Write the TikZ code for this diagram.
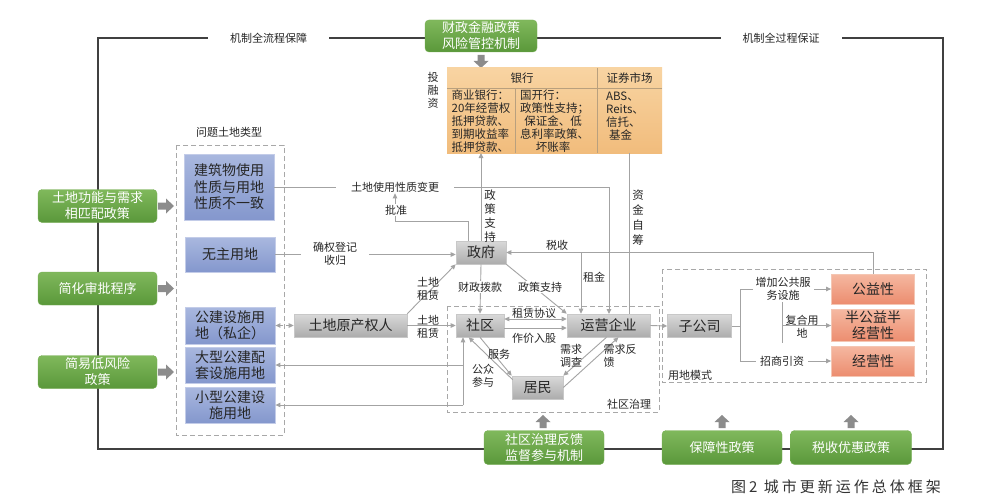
\documentclass[tikz,border=0pt]{standalone}
\usepackage{fontspec}
\setmainfont{Noto Sans CJK SC}
\newfontfamily\capfont[LetterSpace=20]{Noto Sans CJK SC}
\usetikzlibrary{arrows.meta,calc}
\definecolor{cGt}{HTML}{80B85C}
\definecolor{cGb}{HTML}{5A983A}
\definecolor{cGd}{HTML}{78B056}
\definecolor{cBt}{HTML}{A9B8DF}
\definecolor{cBb}{HTML}{8497CD}
\definecolor{cBd}{HTML}{C3CCE8}
\definecolor{cYt}{HTML}{D9D9D9}
\definecolor{cYb}{HTML}{ACACAC}
\definecolor{cYd}{HTML}{C8C8C8}
\definecolor{cRt}{HTML}{F5B8A1}
\definecolor{cRb}{HTML}{EC8D6F}
\definecolor{cRd}{HTML}{F4C6B3}
\definecolor{cTt}{HTML}{F8D4A2}
\definecolor{cTb}{HTML}{F1BC7C}
\definecolor{cTl}{HTML}{B9A07E}
\definecolor{cLn}{HTML}{A3A3A3}
\definecolor{cDs}{HTML}{A8A8A8}
\definecolor{cFr}{HTML}{404040}
\definecolor{cBk}{HTML}{8C8C8C}
\definecolor{cTx}{HTML}{262626}
\definecolor{cCap}{HTML}{333333}
\newcommand\fsz[2]{\fontsize{#1pt}{#2pt}\selectfont}
\begin{document}
\begin{tikzpicture}[x=1pt,y=-1pt,
 base/.style={inner sep=0pt, align=center},
 gbox/.style={base, rounded corners=4pt, draw=cGd, top color=cGt, bottom color=cGb, text=white, font=\fsz{13}{16}, minimum width=119pt, minimum height=33pt},
 bbox/.style={base, draw=cBd, line width=0.8pt, top color=cBt, bottom color=cBb, text=cTx, font=\fsz{14}{16.5}, minimum width=90pt},
 gybox/.style={base, draw=cYd, line width=0.6pt, top color=cYt, bottom color=cYb, text=cTx, font=\fsz{14}{16}, minimum height=23pt},
 rbox/.style={base, draw=cRd, line width=0.8pt, top color=cRt, bottom color=cRb, text=cTx, font=\fsz{14}{16}, minimum width=83pt},
 lbl/.style={font=\fsz{11}{13}, text=cTx, inner sep=1pt, align=center},
 wl/.style={lbl, fill=white},
 conn/.style={draw=cLn, line width=0.9pt, -{Triangle[length=5pt,width=4.5pt]}},
 plain/.style={draw=cLn, line width=0.9pt},
 dbox/.style={draw=cDs, line width=1pt, dash pattern=on 5pt off 3pt},
 frame/.style={draw=cFr, line width=2pt},
 tline/.style={draw=cTl, line width=0.7pt},
 blkR/.pic={\fill[cBk] (0,-3.5) -- (8,-3.5) -- (8,-7.5) -- (16,0) -- (8,7.5) -- (8,3.5) -- (0,3.5) -- cycle;},
 blkD/.pic={\fill[cBk] (-3.5,0) -- (-3.5,6) -- (-7.5,6) -- (0,13) -- (7.5,6) -- (3.5,6) -- (3.5,0) -- cycle;},
 blkU/.pic={\fill[cBk] (-3.5,0) -- (-3.5,-6) -- (-7.5,-6) -- (0,-13) -- (7.5,-6) -- (3.5,-6) -- (3.5,0) -- cycle;}
]
\useasboundingbox[fill=white] (0,0) rectangle (990,500);

% outer frame
\draw[frame] (97.5,38) rectangle (942.5,449);
\node[lbl, fill=white, inner xsep=22pt] (fl1) at (268.5,38) {机制全流程保障};
\node[lbl, fill=white, inner xsep=22pt] (fl2) at (781,38) {机制全过程保证};

% green policy boxes
\node[gbox, minimum width=112pt, minimum height=32pt] (gt) at (481,36) {财政金融政策\\风险管控机制};
\node[gbox] (g1) at (97.5,206) {土地功能与需求\\相匹配政策};
\node[gbox] (g2) at (97.5,288.5) {简化审批程序};
\node[gbox] (g3) at (97.5,372) {简易低风险\\政策};
\node[gbox, minimum width=120pt, minimum height=34pt] (gb1) at (544,447.5) {社区治理反馈\\监督参与机制};
\node[gbox, minimum width=120pt, minimum height=34pt] (gb2) at (722,447.5) {保障性政策};
\node[gbox, minimum width=121pt, minimum height=34pt] (gb3) at (851,447.5) {税收优惠政策};

% block arrows
\pic at (158,206) {blkR};
\pic at (158,288.5) {blkR};
\pic at (158,372) {blkR};
\pic at (481,55) {blkD};
\pic at (543,428) {blkU};
\pic at (722,428) {blkU};
\pic at (851,428) {blkU};

% dashed groups
\draw[dbox] (176,145) rectangle (284,435);
\node[lbl] (lt) at (229,132) {问题土地类型};
\draw[dbox] (447,306) rectangle (659,412);
\node[lbl] (lsq) at (629,404) {社区治理};
\draw[dbox] (662,269) rectangle (926,382);
\node[lbl] (lyd) at (690,375) {用地模式};

% finance table
\node[base, top color=cTt, bottom color=cTb, minimum width=215pt, minimum height=85pt] (tb) at (554.5,110.5) {};
\draw[tline] (447,88) -- (662,88);
\draw[tline] (597,68) -- (597,153);
\draw[tline] (515,88) -- (515,153);
\node[lbl, font=\fsz{11.5}{13}] (th1) at (522,78) {银行};
\node[lbl, font=\fsz{11.5}{13}] (th2) at (629.5,78) {证券市场};
\node[lbl, font=\fsz{11.5}{13}, align=left] (tc1) at (481,121) {商业银行：\\20年经营权\\抵押贷款、\\到期收益率\\抵押贷款、};
\node[lbl, font=\fsz{11.5}{13}, text width=66pt, align=center] (tc2) at (553,121) {\makebox[66pt][l]{国开行：}\\政策性支持；\\保证金、低\\息利率政策、\\坏账率};
\node[lbl, font=\fsz{11.5}{13}, align=left] (tc3) at (625,116) {ABS、\\Reits、\\信托、\\\hspace*{3pt}基金};
\node[lbl, font=\fsz{11}{13}] (trz) at (433,90) {投\\融\\资};

% blue land-type boxes
\node[bbox, minimum height=66pt] (b1) at (229,187) {建筑物使用\\性质与用地\\性质不一致};
\node[bbox, minimum height=35pt] (b2) at (230,254.5) {无主用地};
\node[bbox, minimum height=37pt] (b3) at (230,325.5) {公建设施用\\地（私企）};
\node[bbox, minimum height=36pt] (b4) at (230,365) {大型公建配\\套设施用地};
\node[bbox, minimum height=36pt] (b5) at (230,405) {小型公建设\\施用地};

% gray actor boxes
\node[gybox, minimum width=113pt] (yq) at (350.5,325.5) {土地原产权人};
\node[gybox, minimum width=50pt] (zf) at (481,252.5) {政府};
\node[gybox, minimum width=48pt] (sq) at (480,325.5) {社区};
\node[gybox, minimum width=83pt] (yy) at (608.5,325.5) {运营企业};
\node[gybox, minimum width=51pt] (jm) at (537.5,387.5) {居民};
\node[gybox, minimum width=64pt] (zg) at (699.5,326) {子公司};

% land-use mode boxes
\node[rbox, minimum height=30pt] (r1) at (873,289) {公益性};
\node[rbox, minimum height=32pt] (r2) at (873,325.5) {半公益半\\经营性};
\node[rbox, minimum height=30pt] (r3) at (873,361) {经营性};

% connectors
\node[lbl, fill=white, inner xsep=15pt] (tdb) at (395,187) {土地使用性质变更};
\draw[plain] (b1.east) -- (tdb.west);
\draw[conn] (tdb.east) -- (609,187) -- (609,314);
\coordinate (pzc) at (395,221);
\draw[conn] ([xshift=-13pt]zf.north) |- (pzc) -- (pzc |- tdb.south);
\draw[conn] (b2.east) -- (b2.east -| zf.west);
\draw[conn] (zf.north) -- (481,153);
\draw[plain] (629,153) -- (629,314);
\draw[conn] (r1.north) |- (zf.east);
\coordinate (zj) at (581,252.5);
\draw[conn] (zj) -- (zj |- yy.north);
\draw[conn] (yq.north east) -- (zf.south west);
\draw[conn] (zf.south) -- (sq.north);
\draw[conn] (zf.south east) -- (yy.north west);
\draw[conn] (yq.east) -- (sq.west);
\draw[conn, dashed, {Triangle[length=5pt,width=4.5pt]}-{Triangle[length=5pt,width=4.5pt]}] (b3.east) -- (yq.west);
\draw[conn, {Triangle[length=5pt,width=4.5pt]}-{Triangle[length=5pt,width=4.5pt]}] ([yshift=6.5pt]sq.east) -- ([yshift=6.5pt]yy.west);
\draw[conn] ([yshift=-2.5pt]sq.east) -- ([yshift=-2.5pt]yy.west);
\draw[conn] (sq.south) -- (jm.north west);
\draw[conn] ($(jm.north west)+(1,4)$) -- ($(sq.south west)+(13,0)$);
\draw[conn] ($(yy.south)+(-2,0)$) -- (jm.north east);
\draw[conn] (jm.east) -- ($(yy.south)+(10,0)$);
\coordinate (jx) at (463,405);
\draw[conn] (jx |- b4.east) -- (b4.east);
\draw[conn] (jx) -- (b5.east);
\draw[conn] (jx) -- (jx |- sq.south);
\draw[conn] (yy.east) -- (zg.west);
\coordinate (t0) at (740,326);
\coordinate (t1) at (740,289);
\coordinate (t2) at (740,361);
\draw[plain] (zg.east) -- (t0);
\draw[plain] (t1) -- (t2);
\draw[conn] (t1) -- (t1 -| r1.west);
\draw[conn] (t2) -- (t2 -| r3.west);
\coordinate (t3) at (782,302);
\coordinate (t4) at (782,343);
\coordinate (t5) at (782,325.5);
\draw[plain] (t3) -- (t4);
\draw[conn] (t5) -- (r2.west);

% connector labels
\node[wl] (lpz) at (396,210) {批准};
\node[wl, inner xsep=12pt] (lqq) at (335,254) {确权登记\\收归};
\node[lbl, font=\fsz{11.5}{14}] (lzc) at (490,216) {政\\策\\支\\持};
\node[lbl, font=\fsz{11.5}{15}] (lzj) at (638,218) {资\\金\\自\\筹};
\node[lbl] (lss) at (557,245) {税收};
\node[lbl] (lzjn) at (594,277) {租金};
\node[lbl] (ltd1) at (428,289) {土地\\租赁};
\node[wl] (lcz) at (480,287) {财政拨款};
\node[wl] (lzc2) at (540,287) {政策支持};
\node[lbl] (ltd2) at (428,326.5) {土地\\租赁};
\node[lbl] (lzl) at (534,313) {租赁协议};
\node[lbl] (lzg) at (534,338) {作价入股};
\node[lbl] (lfw) at (499,354) {服务};
\node[lbl] (lgz) at (483,376) {公众\\参与};
\node[lbl] (lxd) at (571,356) {需求\\调查};
\node[lbl, align=left] (lxf) at (620,356) {需求反\\馈};
\node[wl, inner xsep=3pt] (lzjf) at (783,288.5) {增加公共服\\务设施};
\node[lbl] (lfh) at (802,326.5) {复合用\\地};
\node[wl, inner xsep=4pt] (lzs) at (782,361) {招商引资};

% caption
\node[text=cCap, font=\capfont\fsz{15}{18}, inner sep=0pt] (cap) at (836,487) {图2 城市更新运作总体框架};
\end{tikzpicture}
\end{document}
